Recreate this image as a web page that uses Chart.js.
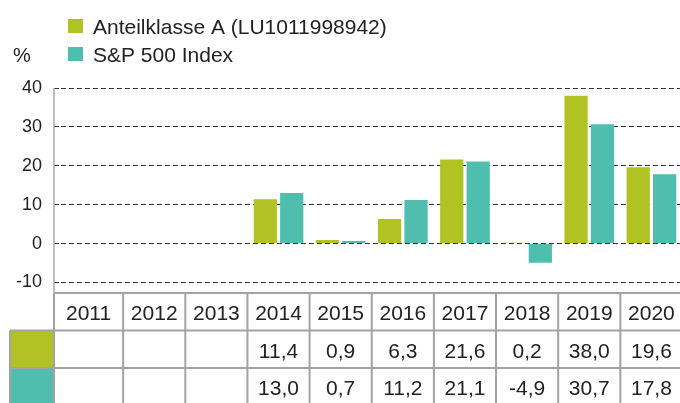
<!DOCTYPE html>
<html>
<head>
<meta charset="utf-8">
<script src="https://cdn.jsdelivr.net/npm/chart.js@4"></script>
<style>
  html, body { margin: 0; padding: 0; background: #fff; overflow: hidden; }
  #wrap { width: 690px; height: 403px; }
</style>
</head>
<body>
<div id="wrap"><canvas id="myChart" width="690" height="403"></canvas></div>
<script>
// Daten
const years = ["2011", "2012", "2013", "2014", "2015", "2016", "2017", "2018", "2019", "2020"];
const fundValues = [null, null, null, 11.4, 0.9, 6.3, 21.6, 0.2, 38.0, 19.6];
const indexValues = [null, null, null, 13.0, 0.7, 11.2, 21.1, -4.9, 30.7, 17.8];
const seriesLabels = ["Anteilklasse A (LU1011998942)", "S&P 500 Index"];
const seriesColors = ["#b0c323", "#50beae"];
const yTicks = [-10, 0, 10, 20, 30, 40];

const fontName = "'Liberation Sans', Arial, sans-serif";

function fmt(v) {
  if (v === null || v === undefined) return "";
  return v.toFixed(1).replace(".", ",");
}

// Legende, Achse und Tabelle unter dem Diagramm
const extrasPlugin = {
  id: "extras",
  afterDraw(chart) {
    const ctx = chart.ctx;
    const area = chart.chartArea;
    const x = chart.scales.x;
    const axisX = area.left - 7;
    const tableTop = area.bottom + 10.5;
    const rowH = 37.5;

    ctx.save();

    // Legende
    ctx.font = "21px " + fontName;
    ctx.textBaseline = "alphabetic";
    ctx.textAlign = "left";
    chart.data.datasets.forEach(function(ds, i) {
      const top = 19 + i * 28;
      ctx.fillStyle = ds.backgroundColor;
      ctx.fillRect(68, top, 15, 14);
      ctx.fillStyle = "#222";
      ctx.fillText(ds.label, 93, top + 14.5);
    });
    ctx.font = "20px " + fontName;
    ctx.fillText("%", 13, 61.5);

    // y-Achse
    ctx.strokeStyle = "#aaa";
    ctx.lineWidth = 1.5;
    ctx.beginPath();
    ctx.moveTo(axisX, area.top);
    ctx.lineTo(axisX, tableTop);
    ctx.stroke();

    // Tabelle
    const slot = x.getPixelForValue(1) - x.getPixelForValue(0);
    const edges = [];
    for (let i = 0; i < years.length; i++) {
      edges.push(x.getPixelForValue(i) - slot / 2);
    }
    edges[0] = axisX;
    edges.push(x.getPixelForValue(years.length - 1) + slot / 2);

    // farbige Zeilenköpfe
    const rows = [fundValues, indexValues];
    rows.forEach(function(row, r) {
      const top = tableTop + rowH * (r + 1);
      ctx.fillStyle = seriesColors[r];
      ctx.fillRect(10, top, axisX - 10, rowH);
    });

    ctx.strokeStyle = "#a3a3a3";
    ctx.lineWidth = 2;
    ctx.beginPath();
    // horizontale Linien
    ctx.moveTo(axisX, tableTop);
    ctx.lineTo(edges[edges.length - 1], tableTop);
    for (let r = 1; r <= 3; r++) {
      ctx.moveTo(10, tableTop + rowH * r);
      ctx.lineTo(edges[edges.length - 1], tableTop + rowH * r);
    }
    // vertikale Linien
    edges.forEach(function(e) {
      ctx.moveTo(e, tableTop);
      ctx.lineTo(e, tableTop + rowH * 3);
    });
    ctx.moveTo(10, tableTop + rowH);
    ctx.lineTo(10, tableTop + rowH * 3);
    ctx.stroke();

    ctx.fillStyle = "#222";
    ctx.font = "21px " + fontName;
    ctx.textAlign = "center";
    for (let i = 0; i < years.length; i++) {
      const cx = (edges[i] + edges[i + 1]) / 2;
      ctx.fillText(years[i], cx, tableTop + 27);
      rows.forEach(function(row, r) {
        ctx.fillText(fmt(row[i]), cx, tableTop + rowH * (r + 1) + 27);
      });
    }

    ctx.restore();
  }
};

const ctx = document.getElementById("myChart").getContext("2d");
new Chart(ctx, {
  type: "bar",
  data: {
    labels: years,
    datasets: [
      {
        label: seriesLabels[0],
        data: fundValues,
        backgroundColor: seriesColors[0],
        categoryPercentage: 0.85,
        barPercentage: 0.88
      },
      {
        label: seriesLabels[1],
        data: indexValues,
        backgroundColor: seriesColors[1],
        categoryPercentage: 0.85,
        barPercentage: 0.88
      }
    ]
  },
  options: {
    responsive: false,
    animation: false,
    layout: {
      padding: { top: 88, bottom: 120.5, left: 0, right: 7.5 }
    },
    plugins: {
      legend: { display: false },
      tooltip: { enabled: false }
    },
    scales: {
      x: {
        display: false
      },
      y: {
        min: -10,
        max: 40,
        afterFit: function(scale) { scale.width = 61; },
        afterBuildTicks: function(scale) {
          scale.ticks = yTicks.map(function(v) { return { value: v }; });
        },
        ticks: {
          color: "#222",
          padding: 12,
          font: { family: fontName, size: 18 }
        },
        border: { display: false, dash: [5, 3] },
        grid: {
          color: "#333",
          tickColor: "#333",
          tickLength: 7,
          tickBorderDash: [5, 3],
          lineWidth: 1
        }
      }
    }
  },
  plugins: [extrasPlugin]
});
</script>
</body>
</html>
